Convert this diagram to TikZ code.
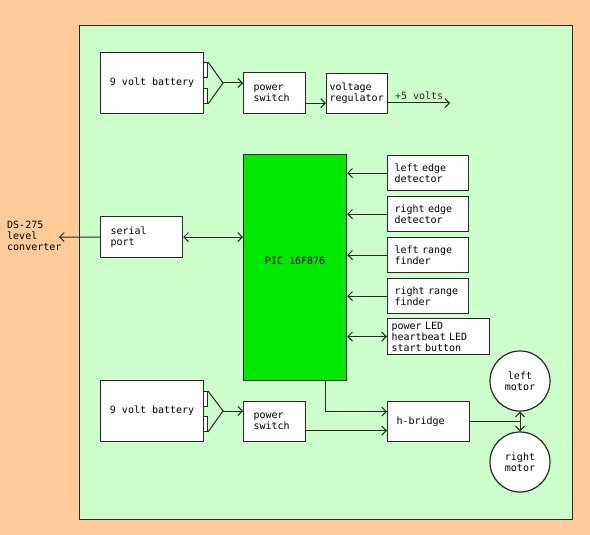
\documentclass[tikz,border=0pt]{standalone}
\usepackage{fontspec}
\setmonofont{DejaVu Sans Mono}
\usetikzlibrary{arrows.meta}
\definecolor{peach}{RGB}{255,204,153}
\definecolor{mint}{RGB}{204,255,204}
\definecolor{chip}{RGB}{0,232,0}
\definecolor{edge}{RGB}{40,40,40}

\begin{document}
\begin{tikzpicture}[x=1pt,y=-1pt,>={Straight Barb[length=4.5pt,width=9pt]},
  font=\ttfamily\fontsize{10}{11}\selectfont,
  blk/.style={draw=edge,fill=white,line width=1.2pt,anchor=north west,align=left,inner ysep=0pt},
  sense/.style={blk,minimum width=81pt,minimum height=35pt,inner xsep=7pt,text width=67pt},
  term/.style={draw=edge,fill=white,line width=1pt,anchor=north west,minimum width=4pt,minimum height=15pt,inner sep=0pt},
  motor/.style={circle,draw=edge,fill=white,line width=1.2pt,minimum size=60pt,inner sep=0pt,align=center},
  wire/.style={line width=1pt,edge}]
\fill[peach] (0,0) rectangle (590,535);
\draw[edge,fill=mint,line width=1pt] (79,26) rectangle (572,519);

% supply for the logic
\node[blk,minimum width=103pt,minimum height=61pt] (bat1) at (100,52) {9 volt battery};
\node[term] (t1a) at (203,62) {};
\node[term] (t1b) at (203,88) {};
\coordinate (j1) at (223,83);
\draw[wire] (t1a.north east) -- (j1) -- (t1b.south east);
\node[blk,minimum width=62pt,minimum height=41pt,inner xsep=10pt,text width=42pt] (sw1) at (243,72) {power\\switch};
\draw[wire,->] (j1) -- (j1 -| sw1.west);
\node[blk,minimum width=61pt,minimum height=40pt,inner xsep=3pt,text width=55pt] (reg) at (326,73) {voltage\\regulator};
\draw[wire,->] ([yshift=-10pt]sw1.east) -- ([yshift=-10pt]sw1.east -| reg.west);
\coordinate (vout) at (450,103);
\draw[wire,->] (reg.east |- vout) -- node[above=0pt] {+5 volts} (vout);

% controller and sensors
\node[draw=edge,fill=chip,line width=1.2pt,anchor=north west,minimum width=103pt,minimum height=226pt] (pic) at (243,154) {};
\node (pictext) at ([yshift=7pt]pic.center) {PIC 16F876};
\node[sense] (ledge) at (387,155) {left edge\\detector};
\node[sense] (redge) at (387,196) {right edge\\detector};
\node[sense] (lrange) at (387,237) {left range\\finder};
\node[sense] (rrange) at (387,278) {right range\\finder};
\node[blk,minimum width=102pt,minimum height=36pt,inner xsep=4pt,text width=94pt] (panel) at (387,318) {power LED\\heartbeat LED\\start button};
\foreach \s in {ledge,redge,lrange,rrange}
  \draw[wire,->] (\s.west) -- (\s.west -| pic.east);
\draw[wire,<->] (panel.west -| pic.east) -- (panel.west);

% serial link
\node[blk,minimum width=82pt,minimum height=41pt,inner xsep=10pt,text width=62pt] (ser) at (100,216) {serial\\port};
\draw[wire,<->] (ser.east) -- (ser.east -| pic.west);
\node[anchor=west,align=left,inner sep=0pt] (ds) at (7,236) {DS-275\\level\\converter};
\coordinate (dsend) at (59,237);
\draw[wire,->] (ser.west) -- (dsend);

% supply for the motors
\node[blk,minimum width=103pt,minimum height=61pt] (bat2) at (100,380) {9 volt battery};
\node[term] (t2a) at (203,391) {};
\node[term] (t2b) at (203,416) {};
\coordinate (j2) at (223,411);
\draw[wire] (t2a.north east) -- (j2) -- (t2b.south east);
\node[blk,minimum width=62pt,minimum height=40pt,inner xsep=10pt,text width=42pt] (sw2) at (243,401) {power\\switch};
\draw[wire,->] (j2) -- (j2 -| sw2.west);
\node[blk,minimum width=82pt,minimum height=40pt,inner xsep=9pt,text width=64pt] (hb) at (387,401) {h-bridge};
\draw[wire,->] ([xshift=30.5pt]pic.south) |- ([yshift=10pt]hb.west);
\draw[wire,->] ([yshift=-9pt]sw2.east) -- ([yshift=-9pt]sw2.east -| hb.west);

% motors
\node[motor] (lm) at (520,381) {left\\motor};
\node[motor] (rm) at (520,462) {right\\motor};
\draw[wire] (hb.east) -- (hb.east -| lm.south) coordinate (mj);
\draw[wire,->] (mj) -- (lm.south);
\draw[wire,->] (mj) -- (rm.north);
\end{tikzpicture}
\end{document}
